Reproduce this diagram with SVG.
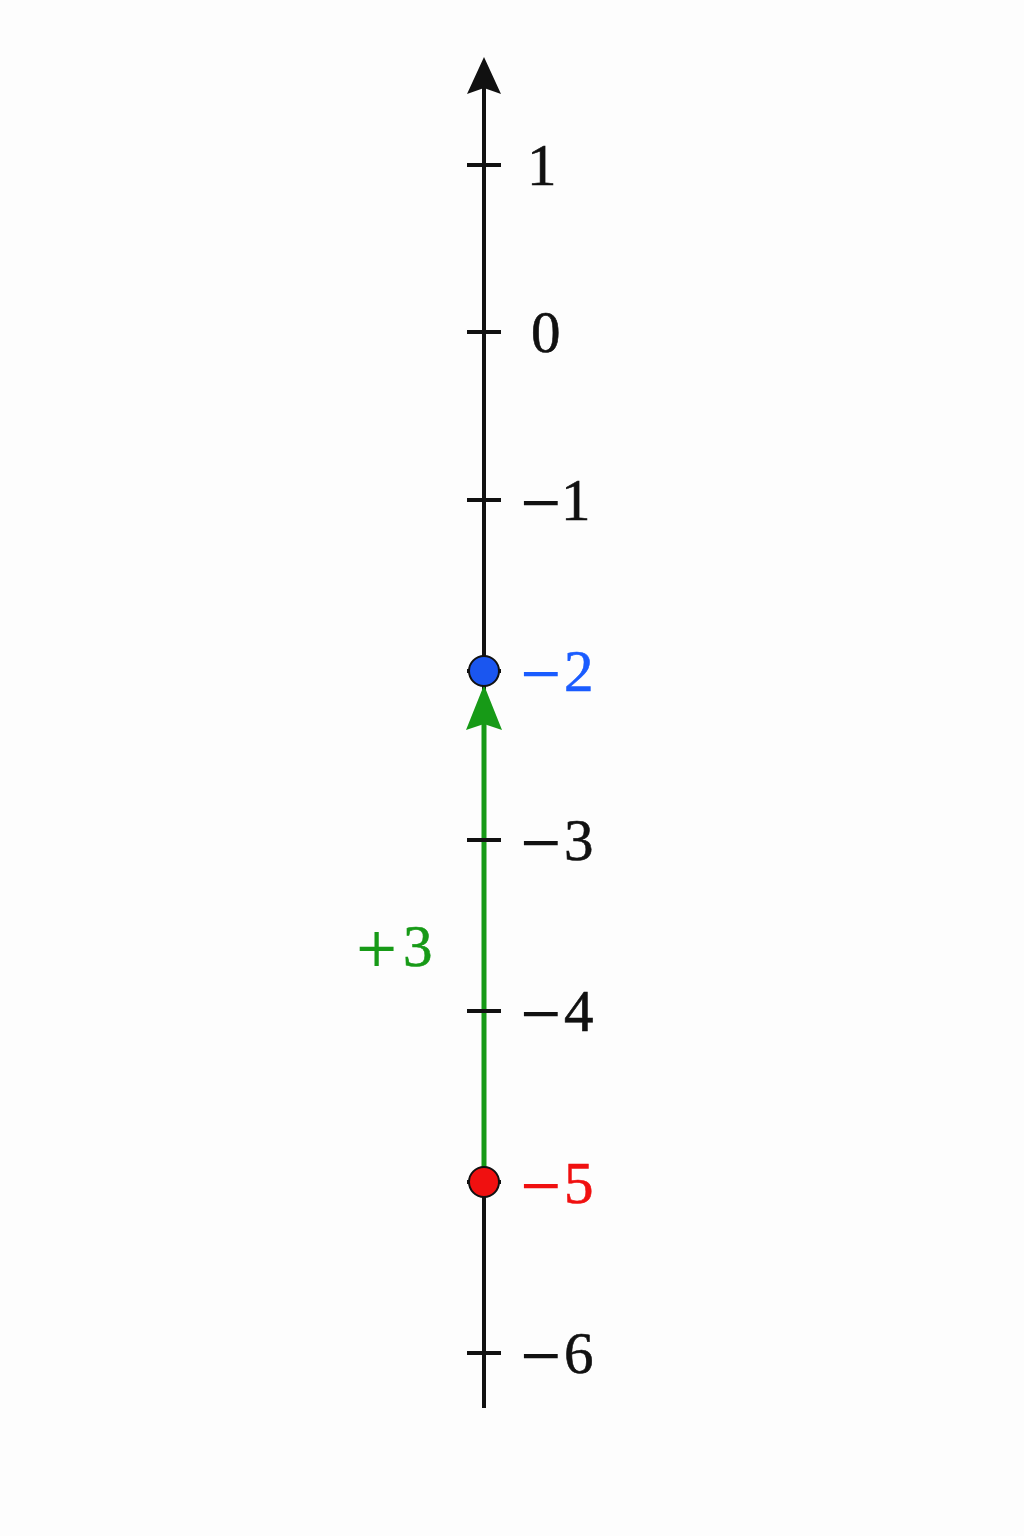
<svg xmlns="http://www.w3.org/2000/svg" width="1024" height="1536" viewBox="0 0 1024 1536">
<style>
.axis{stroke:#111;stroke-width:4;fill:none}
.tick{stroke:#111;stroke-width:4}
.lbl{font-family:"Liberation Serif","DejaVu Serif",serif;font-size:59px;fill:#111;stroke:#111;stroke-width:0.6}
.sg{font-family:"DejaVu Serif","Liberation Serif",serif;font-size:54px;stroke-width:0}
.blue{fill:#1a5cff;stroke:#1a5cff}
.red{fill:#f01010;stroke:#f01010}
.green{fill:#179a17;stroke:#179a17}
</style>
<rect width="1024" height="1536" fill="#fdfdfd"/>
<g id="connectors">
<line class="axis" x1="484" y1="1408" x2="484" y2="88"/>
<polygon points="484,57 501,94 484,88 467,94" fill="#111"/>
<line x1="484" y1="1182" x2="484" y2="722" stroke="#179a17" stroke-width="5"/>
<polygon points="484,685 502,730 484,724 466,730" fill="#179a17"/>
</g>
<g id="ticks">
<line class="tick" x1="467" y1="165" x2="501" y2="165"/>
<line class="tick" x1="467" y1="332" x2="501" y2="332"/>
<line class="tick" x1="467" y1="500" x2="501" y2="500"/>
<line class="tick" x1="467" y1="671" x2="501" y2="671"/>
<line class="tick" x1="467" y1="840" x2="501" y2="840"/>
<line class="tick" x1="467" y1="1011" x2="501" y2="1011"/>
<line class="tick" x1="467" y1="1182" x2="501" y2="1182"/>
<line class="tick" x1="467" y1="1353" x2="501" y2="1353"/>
</g>
<g id="labels">
<text class="lbl" x="527" y="185">1</text>
<text class="lbl" x="531" y="352">0</text>
<text class="lbl" x="518" y="520"><tspan class="sg">−</tspan><tspan x="561">1</tspan></text>
<text class="lbl blue" x="518" y="691"><tspan class="sg">−</tspan><tspan x="564">2</tspan></text>
<text class="lbl" x="518" y="860"><tspan class="sg">−</tspan><tspan x="564">3</tspan></text>
<text class="lbl" x="518" y="1031"><tspan class="sg">−</tspan><tspan x="564">4</tspan></text>
<text class="lbl red" x="518" y="1203"><tspan class="sg">−</tspan><tspan x="564">5</tspan></text>
<text class="lbl" x="518" y="1373"><tspan class="sg">−</tspan><tspan x="564">6</tspan></text>
<text class="lbl green" x="354" y="966"><tspan class="sg" font-size="58">+</tspan><tspan x="403">3</tspan></text>
</g>
<g id="point-minus2">
<circle cx="484" cy="671" r="15" fill="#1a56f0" stroke="#111" stroke-width="2"/>
</g>
<g id="point-minus5">
<circle cx="484" cy="1182" r="15" fill="#f01010" stroke="#111" stroke-width="2"/>
</g>
</svg>
